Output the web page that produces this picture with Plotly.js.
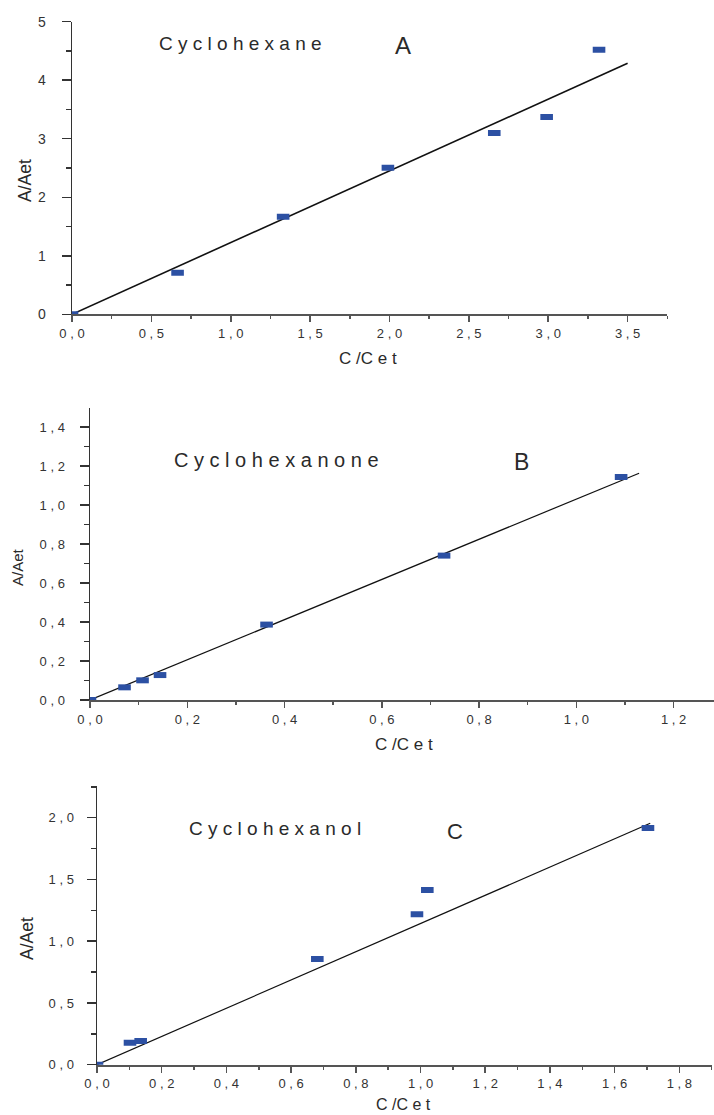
<!DOCTYPE html>
<html>
<head>
<meta charset="utf-8">
<script src="https://cdn.plot.ly/plotly-3.0.1.min.js"></script>
<style>html,body{margin:0;padding:0;background:#fff;}#chart{width:714px;height:1115px;}</style>
</head>
<body>
<div id="chart"></div>
<script>
// ---------- Data ----------
// Panel A: Cyclohexane
const aX = [0, 0.665, 1.33, 1.99, 2.66, 2.99, 3.32];
const aY = [0, 0.71, 1.665, 2.505, 3.10, 3.37, 4.52];
const aFitX = [0, 3.5];
const aFitY = [0, 4.29];
const aTickX = [0, 0.5, 1.0, 1.5, 2.0, 2.5, 3.0, 3.5];
const aTickXText = ["0 , 0", "0 , 5", "1 , 0", "1 , 5", "2 , 0", "2 , 5", "3 , 0", "3 , 5"];
const aTickY = [0, 1, 2, 3, 4, 5];
const aTickYText = ["0", "1", "2", "3", "4", "5"];

// Panel B: Cyclohexanone
const bX = [0, 0.071, 0.108, 0.144, 0.363, 0.728, 1.092];
const bY = [0, 0.065, 0.101, 0.128, 0.387, 0.741, 1.145];
const bFitX = [0, 1.129];
const bFitY = [0, 1.164];
const bTickX = [0, 0.2, 0.4, 0.6, 0.8, 1.0, 1.2];
const bTickXText = ["0 , 0", "0 , 2", "0 , 4", "0 , 6", "0 , 8", "1 , 0", "1 , 2"];
const bTickY = [0, 0.2, 0.4, 0.6, 0.8, 1.0, 1.2, 1.4];
const bTickYText = ["0 , 0", "0 , 2", "0 , 4", "0 , 6", "0 , 8", "1 , 0", "1 , 2", "1 , 4"];

// Panel C: Cyclohexanol
const cX = [0, 0.102, 0.135, 0.681, 0.989, 1.021, 1.703];
const cY = [0, 0.178, 0.192, 0.856, 1.218, 1.415, 1.917];
const cFitX = [0, 1.71];
const cFitY = [0, 1.955];
const cTickX = [0, 0.2, 0.4, 0.6, 0.8, 1.0, 1.2, 1.4, 1.6, 1.8];
const cTickXText = ["0 , 0", "0 , 2", "0 , 4", "0 , 6", "0 , 8", "1 , 0", "1 , 2", "1 , 4", "1 , 6", "1 , 8"];
const cTickY = [0, 0.5, 1.0, 1.5, 2.0];
const cTickYText = ["0 , 0", "0 , 5", "1 , 0", "1 , 5", "2 , 0"];

const compoundNames = ["C y c l o h e x a n e", "C y c l o h e x a n o n e", "C y c l o h e x a n o l"];
const panelLetters = ["A", "B", "C"];
const yTitle = "A/Aet";
const xTitle = "C /C e t";

// ---------- Styling / layout helpers ----------
const W = 714, H = 1115;
const fx = p => p / W;
const fy = p => 1 - p / H;
const FONT = "Liberation Sans, Arial, Helvetica, sans-serif";
const MARK = "#2c50a3";
const AXC = "#555";

function pts(x, y, xa, ya) {
  return {x: x, y: y, xaxis: xa, yaxis: ya, type: "scatter", mode: "markers",
    marker: {symbol: "line-ew", size: 9, color: MARK, line: {color: MARK, width: 6}},
    hoverinfo: "skip", showlegend: false};
}
function fit(x, y, xa, ya, w) {
  return {x: x, y: y, xaxis: xa, yaxis: ya, type: "scatter", mode: "lines",
    line: {color: "#111", width: w}, hoverinfo: "skip", showlegend: false};
}
function xAx(dom, anchor, range, vals, text, minorStep, fs) {
  return {domain: dom, anchor: anchor, range: range, tickmode: "array", tickvals: vals, ticktext: text,
    ticks: "outside", ticklen: 6, tickwidth: 1.5, tickcolor: AXC,
    showline: true, linecolor: AXC, linewidth: 2, showgrid: false, zeroline: false,
    minor: {tickmode: "linear", tick0: 0, dtick: minorStep, ticks: "outside", ticklen: 3, tickwidth: 1.5, tickcolor: AXC, showgrid: false},
    tickfont: {family: FONT, size: fs, color: "#333"}, fixedrange: true};
}
function yAx(dom, anchor, range, vals, text, minorStep, fs, standoff) {
  return {domain: dom, anchor: anchor, range: range, tickmode: "array", tickvals: vals, ticktext: text,
    ticks: "outside", ticklen: 9, tickwidth: 1.5, tickcolor: "#333",
    showline: true, linecolor: "#333", linewidth: 1.5, showgrid: false, zeroline: false,
    minor: {tickmode: "linear", tick0: 0, dtick: minorStep, ticks: "outside", ticklen: 5, tickwidth: 1.5, tickcolor: "#333", showgrid: false},
    tickfont: {family: FONT, size: fs, color: "#333"}, ticklabelstandoff: standoff, fixedrange: true};
}
function ann(text, x, y, size, xanchor, rot, yanchor) {
  return {text: text, x: fx(x), y: fy(y), xref: "paper", yref: "paper", showarrow: false,
    xanchor: xanchor, yanchor: yanchor || "middle", align: "left", textangle: rot || 0, borderpad: 0,
    font: {family: FONT, size: size, color: "#2a2a2a"}};
}

const data = [
  fit(aFitX, aFitY, "x", "y", 1.6), pts(aX, aY, "x", "y"),
  fit(bFitX, bFitY, "x2", "y2", 1.2), pts(bX, bY, "x2", "y2"),
  fit(cFitX, cFitY, "x3", "y3", 1.2), pts(cX, cY, "x3", "y3")
];

const layout = {
  width: W, height: H, margin: {l: 0, r: 0, t: 0, b: 0},
  paper_bgcolor: "#fff", plot_bgcolor: "#fff", showlegend: false,
  font: {family: FONT, color: "#222"},
  xaxis: xAx([fx(72), fx(667.3)], "y", [0, 3.75], aTickX, aTickXText, 0.25, 13),
  yaxis: yAx([fy(314.3), fy(21.7)], "x", [0, 5], aTickY, aTickYText, 0.5, 14, 13),
  xaxis2: xAx([fx(90), 1], "y2", [0, 1.283], bTickX, bTickXText, 0.1, 13),
  yaxis2: yAx([fy(700), fy(408.3)], "x2", [0, 1.497], bTickY, bTickYText, 0.1, 13, 12),
  xaxis3: xAx([fx(97), fx(711.7)], "y3", [0, 1.9], cTickX, cTickXText, 0.1, 13),
  yaxis3: yAx([fy(1064.7), fy(786)], "x3", [0, 2.257], cTickY, cTickYText, 0.25, 13, 10),
  annotations: [
    ann(compoundNames[0], 158, 43, 19, "left"),
    ann(panelLetters[0], 394, 46, 24, "left"),
    ann(compoundNames[1], 173, 460, 20, "left"),
    ann(panelLetters[1], 513, 462, 23, "left"),
    ann(compoundNames[2], 188, 829, 19, "left"),
    ann(panelLetters[2], 446, 831, 22, "left"),
    ann(yTitle, 25, 181, 17.5, "center", -90),
    ann(yTitle, 17, 567, 15, "center", -90),
    ann(yTitle, 27, 938, 17.5, "center", -90),
    ann(xTitle, 368, 359, 17, "center"),
    ann(xTitle, 404, 744, 17, "center"),
    ann(xTitle, 403, 1114, 16, "center", 0, "bottom")
  ]
};

Plotly.newPlot("chart", data, layout, {staticPlot: true, displayModeBar: false});
</script>
</body>
</html>
